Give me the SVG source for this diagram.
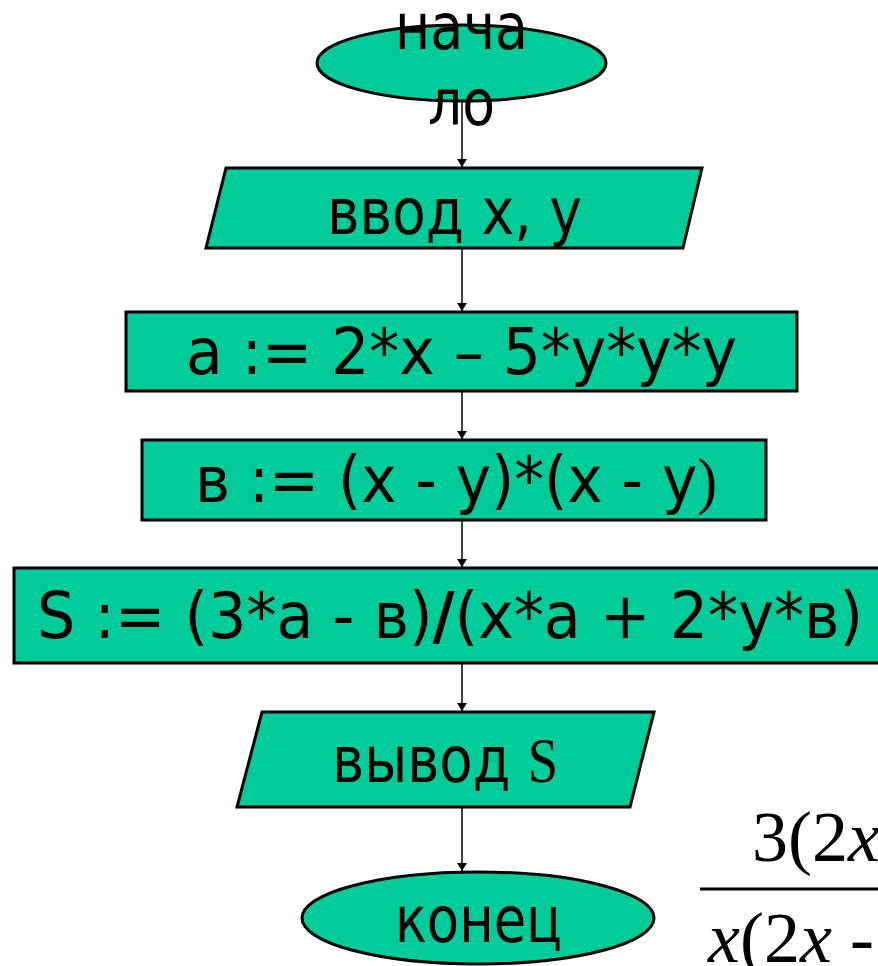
<svg xmlns="http://www.w3.org/2000/svg" width="878" height="966" viewBox="0 0 878 966">
<style>
.shape{fill:#00CC99;stroke:#000;stroke-width:3}
.t{font-family:"DejaVu Sans","Liberation Sans",sans-serif;font-size:64px;fill:#000}
.serif{font-family:"Liberation Serif","Times New Roman",serif}
.m{font-family:"Liberation Serif","Times New Roman",serif;font-size:72px;fill:#000}
.c{stroke:#000;stroke-width:1.5;fill:none;marker-end:url(#ah)}
</style>
<defs>
<marker id="ah" markerWidth="8" markerHeight="10" refX="8" refY="5" orient="auto" markerUnits="userSpaceOnUse" viewBox="0 0 8 10">
<path d="M0,0 L8,5 L0,10 Z" fill="#000"/>
</marker>
</defs>
<rect width="878" height="966" fill="#fff"/>
<g id="connectors">
<line class="c" x1="462" y1="102" x2="462" y2="167"/>
<line class="c" x1="462" y1="249" x2="462" y2="311"/>
<line class="c" x1="462" y1="392" x2="462" y2="439"/>
<line class="c" x1="462" y1="521" x2="462" y2="567"/>
<line class="c" x1="462" y1="664" x2="462" y2="711"/>
<line class="c" x1="462" y1="808" x2="462" y2="871"/>
</g>
<g id="start">
<ellipse class="shape" cx="461.5" cy="63" rx="144.5" ry="38"/>
<text class="t" x="395" y="49" textLength="133" lengthAdjust="spacingAndGlyphs">нача</text>
<text class="t" x="428" y="125" textLength="67" lengthAdjust="spacingAndGlyphs">ло</text>
</g>
<g id="input">
<polygon class="shape" points="226,168 702,168 683,248 206,248"/>
<text class="t" x="327" y="234" textLength="255" lengthAdjust="spacingAndGlyphs">ввод x, y</text>
</g>
<g id="calc-a">
<rect class="shape" x="126" y="312" width="671" height="79"/>
<text class="t" x="186" y="374" textLength="551" lengthAdjust="spacingAndGlyphs">а := 2*x – 5*y*y*y</text>
</g>
<g id="calc-b">
<rect class="shape" x="142" y="440" width="624" height="80"/>
<text class="t" x="195" y="502" textLength="522" lengthAdjust="spacingAndGlyphs">в := (x - y)*(x - y<tspan class="serif">)</tspan></text>
</g>
<g id="calc-s">
<rect class="shape" x="14" y="568" width="870" height="95"/>
<text class="t" x="37" y="638" textLength="826" lengthAdjust="spacingAndGlyphs">S := (3*a - в)<tspan font-weight="bold">/</tspan>(x*a + 2*y*в)</text>
</g>
<g id="output">
<polygon class="shape" points="262,712 654,712 630,807 237,807"/>
<text class="t" x="332" y="782" textLength="226" lengthAdjust="spacingAndGlyphs">вывод <tspan class="serif">S</tspan></text>
</g>
<g id="end">
<ellipse class="shape" cx="478" cy="918" rx="176" ry="46"/>
<text class="t" x="395" y="942" textLength="167" lengthAdjust="spacingAndGlyphs">конец</text>
</g>
<g id="formula">
<text class="m" x="752" y="861">3(2<tspan font-style="italic">x</tspan></text>
<line x1="700" y1="889" x2="878" y2="889" stroke="#000" stroke-width="3"/>
<text class="m" x="708" y="962"><tspan font-style="italic">x</tspan>(2<tspan font-style="italic">x</tspan> -</text>
</g>
</svg>
